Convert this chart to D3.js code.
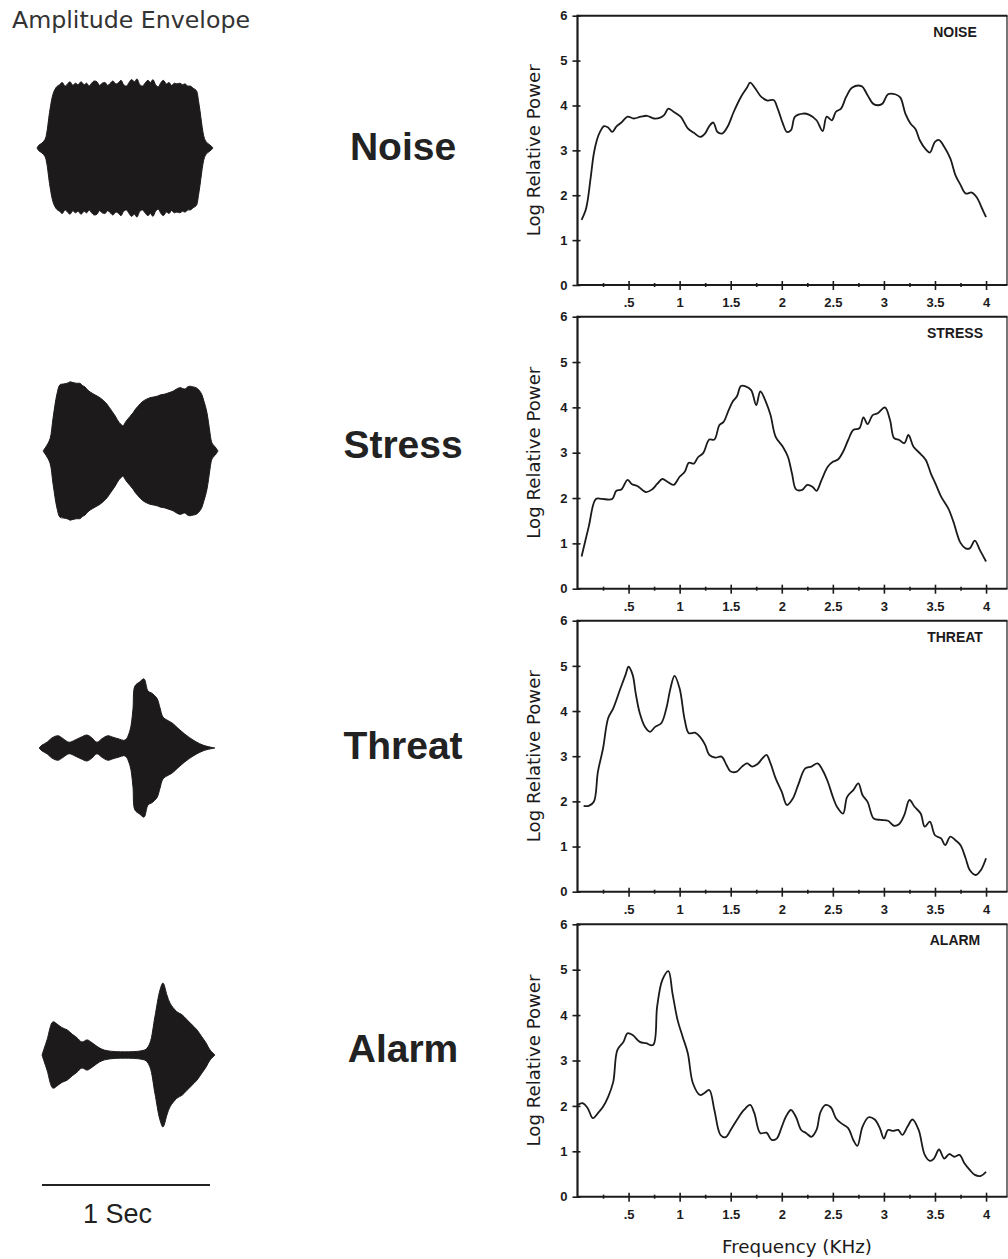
<!DOCTYPE html>
<html>
<head>
<meta charset="utf-8">
<script src="https://cdn.jsdelivr.net/npm/d3@7"></script>
<style>
  body { margin: 0; background: #fff; }
  svg { display: block; }
</style>
</head>
<body>
<svg id="fig" width="1008" height="1259"></svg>
<script>
// ---- Data -------------------------------------------------------------

const callTypes = ["Noise", "Stress", "Threat", "Alarm"];
const panelTags = ["NOISE", "STRESS", "THREAT", "ALARM"];

// Amplitude envelopes: [time (ms), relative amplitude (% of peak)]
const noiseEnvelope = [[0,0],[12,4],[30,7],[48,12],[58,21],[77,53],[97,76],[117,85],[135,88],[150,91],[167,86],[182,89],[196,92],[214,87],[228,90],[245,88],[262,92],[280,88],[296,90],[310,86],[325,90],[340,93],[357,92],[372,87],[388,90],[405,91],[420,87],[436,90],[452,93],[470,89],[486,91],[500,94],[516,88],[532,86],[548,91],[563,95],[580,92],[595,96],[612,88],[628,86],[643,90],[660,94],[676,91],[690,95],[706,88],[722,85],[738,91],[752,94],[770,89],[786,91],[800,87],[818,90],[833,89],[850,90],[866,88],[881,89],[898,86],[914,86],[929,83],[944,81],[952,78],[961,66],[970,52],[979,36],[988,22],[997,13],[1006,9],[1018,6],[1030,4],[1040,2],[1048,0]];
const stressEnvelope = [[0,0],[18,6],[42,17],[60,46],[83,79],[101,92],[120,93],[143,94],[160,96],[179,95],[200,94],[220,94],[235,91],[250,89],[265,85],[280,82],[295,80],[309,78],[325,76],[339,74],[360,70],[381,65],[393,61],[405,57],[417,53],[429,49],[441,44],[452,40],[464,37],[476,35],[488,39],[500,43],[518,48],[536,53],[550,58],[565,62],[580,66],[595,69],[616,72],[637,74],[658,75],[679,76],[700,78],[726,79],[750,81],[774,83],[795,86],[815,88],[830,87],[845,86],[860,89],[875,90],[893,89],[911,88],[922,86],[934,83],[946,78],[958,69],[967,62],[976,53],[985,40],[994,25],[1000,16],[1006,11],[1015,8],[1024,6],[1033,3],[1042,0]];
const threatEnvelope = [[0,0],[18,4],[48,8],[77,14],[113,17],[143,13],[179,8],[214,11],[250,15],[286,18],[315,14],[345,8],[375,13],[411,17],[440,15],[470,13],[512,11],[541,24],[559,53],[571,86],[601,92],[625,96],[649,79],[672,76],[702,69],[720,56],[738,43],[768,38],[791,35],[839,25],[898,14],[976,4],[1047,0]];
const alarmEnvelope = [[0,0],[30,21],[65,46],[95,42],[119,38],[149,35],[179,29],[208,24],[238,18],[268,21],[298,17],[327,12],[357,8],[387,6],[446,4.6],[536,4.6],[595,6],[619,8],[643,17],[672,53],[702,90],[720,100],[744,83],[762,72],[803,60],[833,56],[863,49],[893,42],[922,35],[952,25],[976,17],[1000,7],[1030,0]];

// Power spectra: [frequency (kHz), log relative power]
const noiseSpectrum = [[0.04,1.45],[0.08,1.67],[0.10,1.89],[0.13,2.41],[0.16,2.93],[0.19,3.23],[0.22,3.41],[0.26,3.54],[0.30,3.51],[0.34,3.41],[0.38,3.53],[0.43,3.62],[0.49,3.75],[0.55,3.71],[0.62,3.75],[0.68,3.77],[0.75,3.71],[0.81,3.73],[0.85,3.79],[0.89,3.93],[0.94,3.86],[1.01,3.75],[1.08,3.49],[1.14,3.39],[1.20,3.30],[1.25,3.38],[1.29,3.54],[1.33,3.62],[1.37,3.41],[1.42,3.38],[1.47,3.53],[1.53,3.86],[1.60,4.19],[1.66,4.40],[1.69,4.51],[1.74,4.38],[1.80,4.19],[1.86,4.11],[1.92,4.12],[1.96,3.93],[2.01,3.60],[2.05,3.41],[2.09,3.45],[2.13,3.75],[2.21,3.82],[2.27,3.79],[2.34,3.67],[2.40,3.43],[2.44,3.75],[2.49,3.67],[2.53,3.86],[2.58,3.93],[2.63,4.19],[2.69,4.40],[2.78,4.43],[2.84,4.23],[2.90,4.03],[2.98,4.03],[3.04,4.25],[3.11,4.25],[3.16,4.18],[3.21,3.82],[3.26,3.60],[3.31,3.47],[3.35,3.23],[3.41,3.02],[3.45,2.95],[3.50,3.19],[3.54,3.23],[3.59,3.08],[3.65,2.82],[3.70,2.45],[3.75,2.23],[3.80,2.04],[3.86,2.06],[3.91,1.95],[3.96,1.71],[4.00,1.51]];
const stressSpectrum = [[0.04,0.71],[0.11,1.37],[0.18,1.98],[0.24,1.98],[0.34,1.98],[0.38,2.16],[0.43,2.19],[0.49,2.40],[0.53,2.31],[0.59,2.26],[0.67,2.13],[0.73,2.19],[0.78,2.31],[0.83,2.42],[0.88,2.36],[0.94,2.29],[1.00,2.47],[1.05,2.58],[1.09,2.78],[1.14,2.76],[1.18,2.90],[1.23,2.99],[1.29,3.29],[1.34,3.29],[1.39,3.61],[1.43,3.68],[1.48,3.94],[1.52,4.13],[1.56,4.24],[1.60,4.47],[1.64,4.47],[1.70,4.38],[1.75,4.05],[1.79,4.35],[1.85,4.09],[1.89,3.83],[1.94,3.35],[2.01,3.13],[2.06,2.91],[2.10,2.54],[2.14,2.19],[2.20,2.18],[2.25,2.29],[2.30,2.25],[2.34,2.16],[2.39,2.40],[2.45,2.69],[2.50,2.80],[2.55,2.85],[2.60,3.02],[2.65,3.28],[2.70,3.50],[2.76,3.54],[2.80,3.78],[2.84,3.63],[2.89,3.83],[2.94,3.87],[3.01,4.00],[3.06,3.72],[3.10,3.32],[3.15,3.28],[3.20,3.21],[3.24,3.39],[3.29,3.13],[3.36,2.97],[3.41,2.84],[3.46,2.54],[3.51,2.29],[3.56,2.03],[3.63,1.77],[3.68,1.48],[3.75,1.01],[3.80,0.89],[3.84,0.89],[3.89,1.06],[3.94,0.85],[4.00,0.60]];
const threatSpectrum = [[0.06,1.90],[0.11,1.90],[0.16,1.99],[0.20,2.66],[0.25,3.17],[0.30,3.84],[0.35,4.06],[0.42,4.50],[0.47,4.80],[0.50,4.98],[0.54,4.80],[0.57,4.39],[0.61,3.95],[0.66,3.65],[0.71,3.54],[0.76,3.65],[0.82,3.73],[0.87,4.06],[0.91,4.50],[0.95,4.78],[1.00,4.50],[1.05,3.80],[1.09,3.51],[1.15,3.52],[1.20,3.43],[1.25,3.25],[1.29,3.03],[1.35,2.97],[1.41,2.99],[1.46,2.80],[1.50,2.66],[1.56,2.66],[1.61,2.77],[1.66,2.84],[1.71,2.77],[1.76,2.82],[1.81,2.95],[1.85,3.03],[1.89,2.84],[1.94,2.51],[2.00,2.21],[2.05,1.92],[2.11,2.07],[2.16,2.36],[2.23,2.73],[2.29,2.77],[2.35,2.84],[2.40,2.69],[2.45,2.44],[2.50,2.10],[2.54,1.88],[2.60,1.73],[2.64,2.10],[2.70,2.25],[2.75,2.40],[2.79,2.14],[2.84,1.99],[2.90,1.62],[2.97,1.59],[3.04,1.57],[3.10,1.46],[3.15,1.50],[3.20,1.70],[3.25,2.03],[3.30,1.88],[3.36,1.73],[3.40,1.44],[3.45,1.55],[3.50,1.25],[3.56,1.18],[3.60,1.03],[3.65,1.22],[3.70,1.14],[3.75,1.03],[3.80,0.74],[3.84,0.48],[3.90,0.37],[3.95,0.48],[4.00,0.74]];
const alarmSpectrum = [[0.00,2.02],[0.05,2.06],[0.10,1.95],[0.15,1.73],[0.20,1.84],[0.25,1.98],[0.30,2.20],[0.35,2.53],[0.39,3.23],[0.45,3.41],[0.49,3.60],[0.54,3.56],[0.61,3.41],[0.67,3.38],[0.74,3.34],[0.78,4.19],[0.83,4.77],[0.89,4.97],[0.93,4.48],[0.98,3.89],[1.03,3.52],[1.08,3.16],[1.13,2.50],[1.20,2.24],[1.24,2.28],[1.29,2.35],[1.34,1.91],[1.40,1.36],[1.45,1.31],[1.51,1.51],[1.56,1.69],[1.63,1.91],[1.69,2.02],[1.73,1.85],[1.79,1.40],[1.85,1.41],[1.90,1.25],[1.95,1.28],[2.00,1.54],[2.04,1.76],[2.09,1.91],[2.14,1.75],[2.19,1.47],[2.24,1.40],[2.29,1.32],[2.34,1.47],[2.38,1.87],[2.43,2.02],[2.48,1.97],[2.53,1.73],[2.58,1.62],[2.65,1.51],[2.70,1.25],[2.74,1.12],[2.79,1.54],[2.85,1.75],[2.91,1.70],[2.96,1.51],[3.00,1.28],[3.04,1.47],[3.09,1.45],[3.14,1.47],[3.18,1.36],[3.23,1.54],[3.28,1.70],[3.34,1.47],[3.40,0.92],[3.45,0.79],[3.49,0.84],[3.54,1.04],[3.59,0.84],[3.64,0.94],[3.69,0.88],[3.74,0.92],[3.79,0.73],[3.84,0.59],[3.89,0.48],[3.95,0.46],[4.00,0.55]];

const envelopes = [noiseEnvelope, stressEnvelope, threatEnvelope, alarmEnvelope];
const spectra = [noiseSpectrum, stressSpectrum, threatSpectrum, alarmSpectrum];

const freqMajorTicks = [0.5, 1, 1.5, 2, 2.5, 3, 3.5, 4];
const freqMinorTicks = [0.25, 0.75, 1.25, 1.75, 2.25, 2.75, 3.25, 3.75];
const powerTicks = [0, 1, 2, 3, 4, 5, 6];

// ---- Layout -----------------------------------------------------------

const ink = "#1c1a1b";
const svg = d3.select("#fig");

const rowCenters = [148, 451, 748, 1055];   // envelope mid-lines
const rowStarts = [37, 43, 39, 42];         // envelope onset x
const labelBaselines = [160, 458, 759, 1062];
const panelTops = [15.7, 316.7, 620.7, 924.3];
const panelBottoms = [285, 588.7, 891.7, 1196.7];

const tScale = d3.scaleLinear().domain([0, 1]).range([0, 168]);     // seconds -> px
const aScale = d3.scaleLinear().domain([0, 100]).range([0, 72]);    // % -> half-height px
const x = d3.scaleLinear().domain([0, 4.21]).range([577.5, 1007.5]); // kHz -> px

// ---- Left column: amplitude envelopes --------------------------------

svg.append("text")
  .attr("x", 12).attr("y", 28)
  .attr("font-family", "DejaVu Sans, Verdana, sans-serif")
  .attr("font-size", 23)
  .attr("fill", "#333")
  .attr("textLength", 238).attr("lengthAdjust", "spacingAndGlyphs")
  .text("Amplitude Envelope");

const envArea = d3.area()
  .x(d => tScale(d[0] / 1000))
  .y0(d => aScale(d[1]))
  .y1(d => -aScale(d[1]))
  .curve(d3.curveCatmullRom.alpha(0.5));

envelopes.forEach((env, i) => {
  svg.append("g")
    .attr("transform", `translate(${rowStarts[i]},${rowCenters[i]})`)
    .append("path")
    .datum(env)
    .attr("d", envArea)
    .attr("fill", ink)
    .attr("stroke", ink)
    .attr("stroke-width", 1);

  svg.append("text")
    .attr("x", 403).attr("y", labelBaselines[i])
    .attr("text-anchor", "middle")
    .attr("font-family", "Liberation Sans, Arial, sans-serif")
    .attr("font-weight", "bold")
    .attr("font-size", 39)
    .attr("fill", "#222")
    .text(callTypes[i]);
});

// 1 second scale bar
const barY = 1185, barX = 42;
svg.append("line")
  .attr("x1", barX + tScale(0)).attr("x2", barX + tScale(1))
  .attr("y1", barY).attr("y2", barY)
  .attr("stroke", "#222").attr("stroke-width", 2.2);
svg.append("text")
  .attr("x", barX + tScale(0.45)).attr("y", 1223)
  .attr("text-anchor", "middle")
  .attr("font-family", "Liberation Sans, Arial, sans-serif")
  .attr("font-size", 27)
  .attr("fill", "#222")
  .text("1 Sec");

// ---- Right column: power spectra -------------------------------------

const fmtFreq = d => String(d).replace(/^0\./, ".");
const fmtPower = d3.format("d");
const tickFont = "Liberation Sans, Arial, sans-serif";

spectra.forEach((spec, i) => {
  const y = d3.scaleLinear().domain([0, 6]).range([panelBottoms[i], panelTops[i]]);
  const g = svg.append("g");

  // frame
  const x0 = x.range()[0], x1 = x.range()[1];
  g.append("line").attr("x1", x0).attr("x2", x1).attr("y1", y(6)).attr("y2", y(6))
    .attr("stroke", ink).attr("stroke-width", 2);
  g.append("line").attr("x1", x0).attr("x2", x1).attr("y1", y(0)).attr("y2", y(0))
    .attr("stroke", ink).attr("stroke-width", 2);
  g.append("line").attr("x1", x0).attr("x2", x0).attr("y1", y(0) + 1).attr("y2", y(6) - 1)
    .attr("stroke", ink).attr("stroke-width", 2.2);
  g.append("line").attr("x1", x1 - 0.5).attr("x2", x1 - 0.5).attr("y1", y(0)).attr("y2", y(6))
    .attr("stroke", ink).attr("stroke-width", 1.2);

  // x axis: major ticks with labels
  const gxMajor = g.append("g")
    .attr("transform", `translate(0,${y(0)})`)
    .call(d3.axisBottom(x).tickValues(freqMajorTicks).tickSize(5).tickPadding(8).tickFormat(fmtFreq));
  gxMajor.select(".domain").remove();
  gxMajor.selectAll(".tick line").attr("y1", -4).attr("stroke", ink).attr("stroke-width", 1.6);
  gxMajor.selectAll(".tick text")
    .attr("font-family", tickFont).attr("font-weight", "bold").attr("font-size", 13).attr("fill", ink);

  // x axis: minor ticks
  const gxMinor = g.append("g")
    .attr("transform", `translate(0,${y(0)})`)
    .call(d3.axisBottom(x).tickValues(freqMinorTicks).tickSize(2).tickFormat(""));
  gxMinor.select(".domain").remove();
  gxMinor.selectAll(".tick line").attr("y1", -2).attr("stroke", ink).attr("stroke-width", 1.6);

  // y axis
  const gy = g.append("g")
    .attr("transform", `translate(${x0},0)`)
    .call(d3.axisLeft(y).tickValues(powerTicks).tickSize(5).tickPadding(5).tickFormat(fmtPower));
  gy.select(".domain").remove();
  gy.selectAll(".tick line").attr("x1", 3).attr("stroke", ink).attr("stroke-width", 1.6);
  gy.selectAll(".tick text")
    .attr("font-family", tickFont).attr("font-weight", "bold").attr("font-size", 13).attr("fill", ink);

  // y title
  g.append("text")
    .attr("transform", `translate(539.5,${(y(0) + y(6)) / 2}) rotate(-90)`)
    .attr("text-anchor", "middle")
    .attr("font-family", "DejaVu Sans, Verdana, sans-serif")
    .attr("font-size", 17.5)
    .attr("fill", ink)
    .attr("textLength", 172).attr("lengthAdjust", "spacingAndGlyphs")
    .text("Log Relative Power");

  // panel tag
  g.append("text")
    .attr("x", 955).attr("y", y(6) + 21)
    .attr("text-anchor", "middle")
    .attr("font-family", tickFont)
    .attr("font-weight", "bold")
    .attr("font-size", 14)
    .attr("fill", ink)
    .text(panelTags[i]);

  // spectrum trace
  const line = d3.line()
    .x(d => x(d[0]))
    .y(d => y(d[1]))
    .curve(d3.curveCatmullRom.alpha(0.5));
  g.append("path")
    .datum(spec)
    .attr("d", line)
    .attr("fill", "none")
    .attr("stroke", ink)
    .attr("stroke-width", 1.8)
    .attr("stroke-linejoin", "round");
});

// shared x title
svg.append("text")
  .attr("x", 797).attr("y", 1253)
  .attr("text-anchor", "middle")
  .attr("font-family", "DejaVu Sans, Verdana, sans-serif")
  .attr("font-size", 18)
  .attr("fill", ink)
  .attr("textLength", 150).attr("lengthAdjust", "spacingAndGlyphs")
  .text("Frequency (KHz)");
</script>
</body>
</html>
